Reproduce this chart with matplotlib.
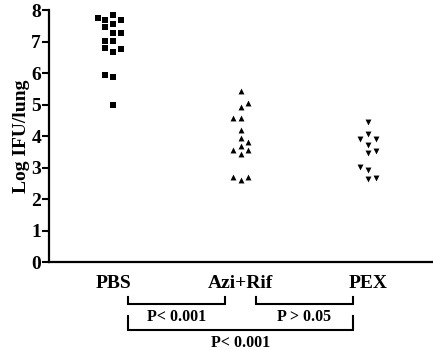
import numpy as np
import matplotlib
matplotlib.use('Agg')
import matplotlib.pyplot as plt

plt.rcParams['font.family'] = ['Liberation Serif', 'DejaVu Serif']
plt.rcParams['font.weight'] = 'bold'

groups = ['PBS', 'Azi+Rif', 'PEX']

# (offset column, value); offset -1/0/+1 = left/centre/right
pbs_col = [0, -2, -1, 1, 0, -1, 0, 1, -1, 0, -1, 1, 0, -1, 0, 0]
pbs_val = [7.85, 7.74, 7.68, 7.68, 7.56, 7.47, 7.26, 7.26, 7.01, 7.01,
           6.80, 6.76, 6.68, 5.94, 5.86, 4.99]
azi_col = [0, 1, 0, -1, 0, 0, 0, 1, 0, -1, 1, 0, -1, 1, 0]
azi_val = [5.44, 5.04, 4.91, 4.57, 4.57, 4.19, 3.93, 3.80, 3.67, 3.57,
           3.57, 3.42, 2.71, 2.71, 2.60]
pex_col = [0, 0, -1, 1, 0, 1, 0, -1, 0, 0, 1]
pex_val = [4.44, 4.05, 3.91, 3.91, 3.70, 3.52, 3.45, 3.01, 2.91, 2.64, 2.68]

# comparisons: (group a, group b, text, level)
comparisons = [(0, 1, 'P< 0.001', 0), (1, 2, 'P > 0.05', 0), (0, 2, 'P< 0.001', 1)]

def main():
    fig = plt.figure(figsize=(4.33, 3.5), dpi=100)
    ax = fig.add_axes([0.114, 0.2514, 0.886, 0.72])

    step = 0.06
    ax.scatter(1 + step * np.array(pbs_col), pbs_val, marker='s', s=21, c='black', linewidths=0)
    ax.scatter(2 + step * np.array(azi_col), azi_val, marker='^', s=18, c='black', linewidths=0)
    ax.scatter(3 + step * np.array(pex_col), pex_val, marker='v', s=18, c='black', linewidths=0)

    ax.set_xlim(0.5, 3.51)
    ax.set_ylim(0, 8)
    ax.set_yticks(range(0, 9))
    ax.set_xticks([1, 2, 3])
    ax.set_xticklabels(groups)
    ax.tick_params(axis='x', length=0, pad=9, labelsize=14)
    ax.tick_params(axis='y', length=5, width=1.5, labelsize=14, pad=1)
    for lab in ax.get_xticklabels() + ax.get_yticklabels():
        lab.set_fontweight('bold')
    ax.set_ylabel('Log IFU/lung', fontsize=14, fontweight='bold', labelpad=1)

    for side in ['top', 'right']:
        ax.spines[side].set_visible(False)
    for side in ['left', 'bottom']:
        ax.spines[side].set_linewidth(1.6)

    # significance brackets below the axis (y in axes fraction)
    tr = ax.get_xaxis_transform()
    for a, b, txt, lvl in comparisons:
        x0 = a + 1 + 0.12
        x1 = b + 1 - 0.12
        if lvl == 0:
            ytop, ybot, ytxt = -0.138, -0.165, -0.185
        else:
            ytop, ybot, ytxt = -0.215, -0.27, -0.29
        ax.plot([x0, x0, x1, x1], [ytop, ybot, ybot, ytop], color='black',
                lw=1.5, transform=tr, clip_on=False, solid_joinstyle='miter')
        ax.text((x0 + x1) / 2, ytxt, txt, transform=tr, ha='center', va='top',
                fontsize=11.5, fontweight='bold')

    fig.savefig('out.png', dpi=100)

if __name__ == "__main__":
    main()
